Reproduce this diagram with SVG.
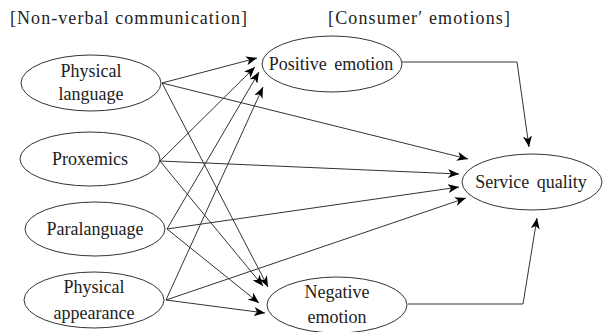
<svg xmlns="http://www.w3.org/2000/svg" width="604" height="332" viewBox="0 0 604 332">
<defs>
<marker id="ah" markerUnits="userSpaceOnUse" markerWidth="12" markerHeight="9" refX="11" refY="4.5" orient="auto">
<path d="M0,0 L11,4.5 L0,9 L3,4.5 z" fill="#000"/>
</marker>
</defs>
<rect width="604" height="332" fill="#fff"/>
<text x="10" y="24" font-family="Liberation Serif" font-size="18" fill="#222" textLength="237" lengthAdjust="spacing">[Non-verbal communication]</text>
<text x="328" y="24" font-family="Liberation Serif" font-size="18" fill="#222" textLength="182" lengthAdjust="spacing">[Consumer′ emotions]</text>
<g id="edges" fill="none" stroke="#333" stroke-width="1" marker-end="url(#ah)">
<line x1="162" y1="83" x2="257" y2="58"/>
<line x1="162" y1="83" x2="468" y2="159"/>
<line x1="162" y1="83" x2="268" y2="287"/>
<line x1="160" y1="161" x2="255" y2="67"/>
<line x1="160" y1="161" x2="459" y2="174"/>
<line x1="160" y1="161" x2="263" y2="286"/>
<line x1="167" y1="229" x2="259" y2="72"/>
<line x1="167" y1="229" x2="459" y2="187"/>
<line x1="167" y1="229" x2="259" y2="303"/>
<line x1="166" y1="300" x2="263" y2="87"/>
<line x1="166" y1="300" x2="466" y2="198"/>
<line x1="166" y1="300" x2="265" y2="313"/>
<polyline points="402,62 517,62 529,147"/>
<polyline points="408,304 523,304 537,218"/>
</g>
<g id="nodes" fill="#fff" stroke="#333" stroke-width="1">
<g id="physical-language"><ellipse cx="91" cy="83" rx="70" ry="28"/></g>
<g id="proxemics"><ellipse cx="90" cy="159" rx="70" ry="27"/></g>
<g id="paralanguage"><ellipse cx="95" cy="229" rx="70" ry="27"/></g>
<g id="physical-appearance"><ellipse cx="94" cy="300" rx="70" ry="28"/></g>
<g id="positive-emotion"><ellipse cx="332" cy="64" rx="70" ry="28"/></g>
<g id="service-quality"><ellipse cx="532" cy="182" rx="70" ry="28"/></g>
<g id="negative-emotion"><ellipse cx="337" cy="305" rx="70" ry="28"/></g>
</g>
<g id="labels" fill="#222" text-anchor="middle" word-spacing="3">
<text x="91" y="77" font-family="Liberation Serif" font-size="18">Physical</text>
<text x="91" y="100" font-family="Liberation Serif" font-size="18">language</text>
<text x="90" y="165" font-family="Liberation Serif" font-size="18">Proxemics</text>
<text x="95" y="235" font-family="Liberation Serif" font-size="18">Paralanguage</text>
<text x="94" y="293" font-family="Liberation Serif" font-size="18">Physical</text>
<text x="94" y="319" font-family="Liberation Serif" font-size="18">appearance</text>
<text x="331" y="70" font-family="Liberation Serif" font-size="18">Positive emotion</text>
<text x="531" y="188" font-family="Liberation Serif" font-size="18">Service quality</text>
<text x="337" y="298" font-family="Liberation Serif" font-size="18">Negative</text>
<text x="337" y="323" font-family="Liberation Serif" font-size="18">emotion</text>
</g>
</svg>
